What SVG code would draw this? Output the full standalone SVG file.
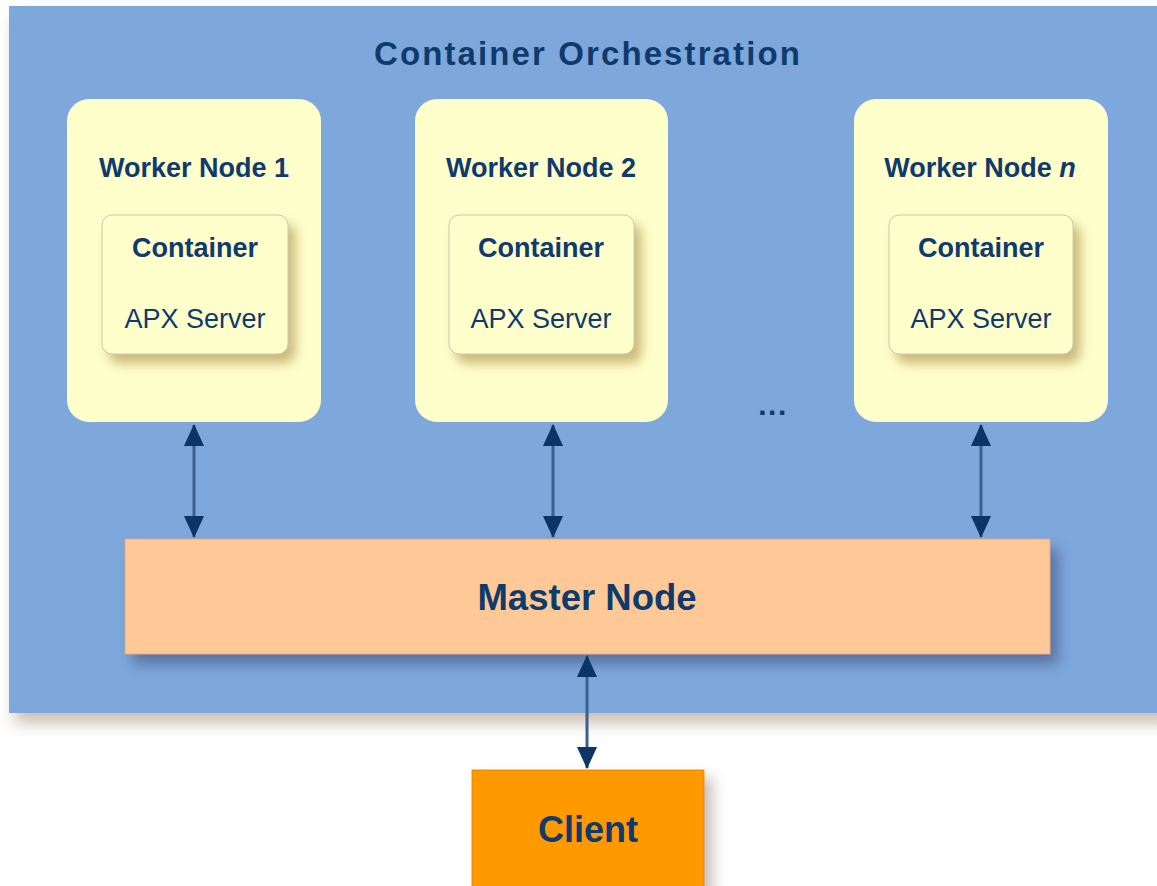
<svg xmlns="http://www.w3.org/2000/svg" width="1157" height="886" viewBox="0 0 1157 886">
<defs>
<style>
.t{font-family:"Liberation Sans",Arial,sans-serif;fill:#0f3a6c;text-anchor:middle}
.b{font-weight:bold}
.worker{fill:#ffffcc}
.cont{fill:#ffffcc;stroke:#c8c8b0;stroke-width:1}
.conn{stroke:#3b5f8f;stroke-width:3;fill:none}
</style>
<filter id="shOuter" x="-5%" y="-5%" width="115%" height="115%">
<feDropShadow dx="6" dy="10" stdDeviation="8" flood-color="#8a6a50" flood-opacity="0.45"/>
</filter>
<filter id="shCont" x="-20%" y="-20%" width="150%" height="150%">
<feDropShadow dx="7" dy="9" stdDeviation="6" flood-color="#a88a40" flood-opacity="0.6"/>
</filter>
<filter id="shMaster" x="-5%" y="-20%" width="115%" height="160%">
<feDropShadow dx="8" dy="10" stdDeviation="7" flood-color="#3a4a70" flood-opacity="0.55"/>
</filter>
<filter id="shClient" x="-20%" y="-20%" width="150%" height="150%">
<feDropShadow dx="8" dy="8" stdDeviation="7" flood-color="#7a5a50" flood-opacity="0.4"/>
</filter>
<marker id="ah" viewBox="0 0 24 22" refX="23" refY="11" markerWidth="22" markerHeight="24" markerUnits="userSpaceOnUse" orient="auto-start-reverse">
<path d="M0,0 L24,11 L0,22 Z" fill="#0a3566"/>
</marker>
</defs>
<rect width="1157" height="886" fill="#ffffff"/>
<g id="orchestration">
<rect x="9" y="6" width="1160" height="707" fill="#7ea8dc" filter="url(#shOuter)"/>
<text class="t b" x="588" y="65" font-size="33" letter-spacing="2.1">Container Orchestration</text>
</g>
<g id="worker1">
<rect class="worker" x="67" y="99" width="254" height="323" rx="22"/>
<text class="t b" x="194" y="177" font-size="27">Worker Node 1</text>
<rect class="cont" x="102" y="215" width="186" height="139" rx="10" filter="url(#shCont)"/>
<text class="t b" x="195" y="257" font-size="27">Container</text>
<text class="t" x="195" y="328" font-size="27">APX Server</text>
</g>
<g id="worker2">
<rect class="worker" x="415" y="99" width="253" height="323" rx="22"/>
<text class="t b" x="541" y="177" font-size="27">Worker Node 2</text>
<rect class="cont" x="449" y="215" width="185" height="139" rx="10" filter="url(#shCont)"/>
<text class="t b" x="541" y="257" font-size="27">Container</text>
<text class="t" x="541" y="328" font-size="27">APX Server</text>
</g>
<g id="ellipsis">
<text class="t b" x="773" y="415" font-size="30" letter-spacing="1.5">...</text>
</g>
<g id="workern">
<rect class="worker" x="854" y="99" width="254" height="323" rx="22"/>
<text class="t b" x="980" y="177" font-size="27">Worker Node <tspan font-style="italic">n</tspan></text>
<rect class="cont" x="889" y="215" width="184" height="139" rx="10" filter="url(#shCont)"/>
<text class="t b" x="981" y="257" font-size="27">Container</text>
<text class="t" x="981" y="328" font-size="27">APX Server</text>
</g>
<g id="master">
<rect x="125" y="539" width="925" height="115" fill="#ffc997" stroke="#e0a878" stroke-width="0.8" filter="url(#shMaster)"/>
<text class="t b" x="587" y="610" font-size="36.5">Master Node</text>
</g>
<g id="client">
<rect x="472" y="770" width="232" height="130" fill="#ff9900" stroke="#d88200" stroke-width="0.8" filter="url(#shClient)"/>
<text class="t b" x="588" y="842" font-size="36">Client</text>
</g>
<g id="connectors">
<line class="conn" x1="194" y1="425" x2="194" y2="537" marker-start="url(#ah)" marker-end="url(#ah)"/>
<line class="conn" x1="553" y1="425" x2="553" y2="537" marker-start="url(#ah)" marker-end="url(#ah)"/>
<line class="conn" x1="981" y1="425" x2="981" y2="537" marker-start="url(#ah)" marker-end="url(#ah)"/>
<line class="conn" x1="587" y1="656" x2="587" y2="768" marker-start="url(#ah)" marker-end="url(#ah)"/>
</g>
</svg>
